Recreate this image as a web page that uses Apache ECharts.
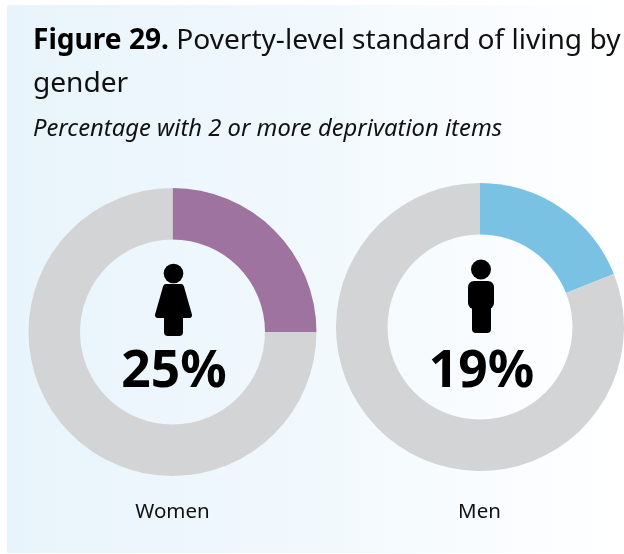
<!DOCTYPE html>
<html>
<head>
<meta charset="utf-8">
<style>html,body{margin:0;padding:0;background:#fff}#c{width:624px;height:554px}</style>
<script src="https://cdn.jsdelivr.net/npm/echarts@6/dist/echarts.min.js"></script>
</head>
<body>
<div id="c"></div>
<script>
const groups = ['Women', 'Men'];
const deprived = [25, 19];
const remainder = [75, 81];
const colors = ['#9f739f', '#79c2e4'];
const titleBold = 'Figure 29.';
const titleRest = ' Poverty-level standard of living by';
const titleLine2 = 'gender';
const subtitle = 'Percentage with 2 or more deprivation items';
const centers = [[172.5, 332], [480, 327]];
const font = '"Noto Sans", sans-serif';

const chart = echarts.init(document.getElementById('c'), null, {renderer: 'canvas'});
const txt = (x, y, text, size, extra) => ({
  type: 'text', x, y, z: 10,
  style: Object.assign({text, fill: '#111', font: `${size}px ${font}`, verticalAlign: 'middle'}, extra || {})
});
const black = {fill: '#000', stroke: '#000', lineWidth: 6, lineJoin: 'round'};
chart.setOption({
  animation: false,
  backgroundColor: '#fff',
  graphic: [
    {type: 'rect', z: -10, shape: {x: 7, y: 5, width: 617, height: 548},
     style: {fill: new echarts.graphic.LinearGradient(0, 0, 1, 0, [
       {offset: 0, color: '#e8f4fb'}, {offset: 0.45, color: '#f0f8fd'}, {offset: 1, color: '#ffffff'}])}},
    {type: 'text', x: 33, y: 41, z: 10, style: {
      text: `{b|${titleBold}}{r|${titleRest}}`,
      verticalAlign: 'middle',
      rich: {
        b: {font: `bold 28.1px ${font}`, fill: '#000'},
        r: {font: `28.1px ${font}`, fill: '#111'}
      }
    }},
    txt(33, 84, titleLine2, 28.1),
    txt(33, 129, subtitle, 23.8, {font: `italic 23.8px ${font}`}),
    txt(172.5, 512.5, groups[0], 20.5, {align: 'center'}),
    txt(479.5, 512.5, groups[1], 20.5, {align: 'center'}),
    // woman icon
    {type: 'circle', z: 10, shape: {cx: 173.5, cy: 273.5, r: 9.8}, style: {fill: '#000'}},
    {type: 'polygon', z: 10, shape: {points: [[166, 287], [181, 287], [189, 315], [158, 315]]}, style: black},
    {type: 'rect', z: 10, shape: {x: 164, y: 310, width: 19, height: 26, r: 4}, style: {fill: '#000'}},
    // man icon
    {type: 'circle', z: 10, shape: {cx: 481, cy: 269.5, r: 10}, style: {fill: '#000'}},
    {type: 'rect', z: 10, shape: {x: 468, y: 281, width: 26, height: 28, r: 6}, style: {fill: '#000'}},
    {type: 'rect', z: 10, shape: {x: 472, y: 300, width: 19, height: 33, r: 4}, style: {fill: '#000'}}
  ],
  series: groups.map((g, i) => ({
    type: 'pie',
    name: g,
    center: centers[i],
    radius: [92.5, 144],
    startAngle: 90,
    clockwise: true,
    silent: true,
    labelLine: {show: false},
    data: [
      {value: deprived[i], name: g + ' deprived', itemStyle: {color: colors[i]},
       label: {show: true, position: 'center', formatter: '{c}%', offset: [1.5, i === 0 ? 40 : 45],
         fontFamily: font, fontWeight: 'bold', fontSize: 51.5, color: '#000'}},
      {value: remainder[i], name: g + ' other', itemStyle: {color: '#d3d4d6'}, label: {show: false}}
    ]
  }))
});
</script>
</body>
</html>
